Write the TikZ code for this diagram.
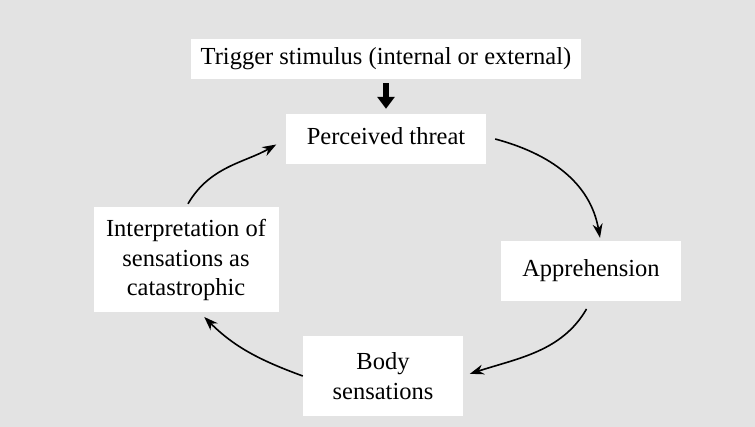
\documentclass[tikz,border=0pt]{standalone}
\usepackage{fontspec}
\setmainfont{Liberation Serif}
\usetikzlibrary{arrows.meta}
\definecolor{paper}{gray}{0.89}
\tikzset{
  label box/.style={fill=white, inner sep=0pt, align=center,
    font=\fontsize{24.5}{29.5}\selectfont},
  one line/.style={label box, text height=17pt, text depth=5pt},
  cycle arrow/.style={line width=1.6pt, -{Stealth[length=14pt,width=10pt]}},
}
\begin{document}
\begin{tikzpicture}[x=1pt, y=1pt]
        \fill[paper] (0,0) rectangle (755,-427);
        \node[one line, minimum width=390pt, minimum height=40pt] (trigger) at (386,-59) {Trigger stimulus (internal or external)};
        \node[one line, minimum width=200pt, minimum height=50pt] (threat) at (386,-139) {Perceived threat};
        \node[one line, minimum width=180pt, minimum height=60pt] (appr) at (591,-271) {Apprehension};
        \node[label box, minimum width=160pt, minimum height=80pt] (body) at (383,-376) {Body\\sensations};
        \node[label box, minimum width=185pt, minimum height=105pt] (interp) at (186,-260) {Interpretation of\\sensations as\\catastrophic};
        \draw[line width=6pt, -{Triangle[length=12pt,width=17pt]}, shorten <=4pt, shorten >=5pt] (trigger) -- (threat);
        \draw[cycle arrow] ([xshift=9pt]threat.east) to[out=-15, in=100] ([xshift=9pt, yshift=3pt]appr.north);
        \draw[cycle arrow, shorten <=9pt, shorten >=7pt] (appr.south) to[out=-120, in=18] (body.east);
        \draw[cycle arrow, shorten >=6pt] (body.west) to[out=160, in=-45] ([xshift=14pt]interp.south);
        \draw[cycle arrow, shorten <=4pt, shorten >=11pt] (interp.north) to[out=60, in=-150] (threat.west);
\end{tikzpicture}
\end{document}
